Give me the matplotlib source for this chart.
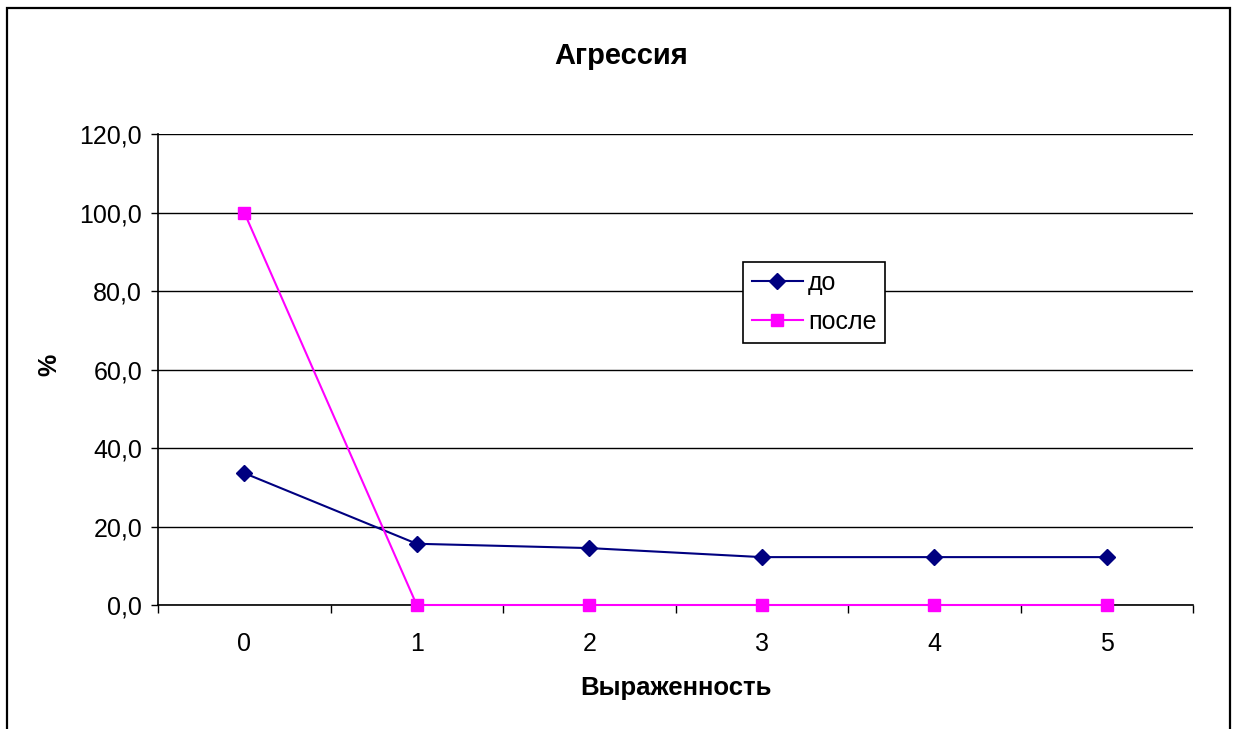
import matplotlib.pyplot as plt
from matplotlib.patches import Rectangle
from matplotlib.ticker import FixedLocator, FuncFormatter

plt.rcParams['font.family'] = ['Liberation Sans', 'DejaVu Sans']

categories = [0, 1, 2, 3, 4, 5]
do_values = [33.6, 15.6, 14.5, 12.2, 12.2, 12.2]
posle_values = [100.0, 0.0, 0.0, 0.0, 0.0, 0.0]
y_ticks = [0, 20, 40, 60, 80, 100, 120]

W, H = 1233, 729
fig = plt.figure(figsize=(W / 100, H / 100), dpi=100)
ax = fig.add_axes([158 / W, 1 - 605 / H, (1193 - 158) / W, (605 - 134) / H])

# outer chart frame
fig.patches.append(Rectangle((7 / W, -0.02), (1230 - 7) / W, 1 - 8 / H + 0.02,
                             transform=fig.transFigure, fill=False,
                             edgecolor='black', linewidth=1.6, zorder=0))

x = list(range(len(categories)))
ax.plot(x, do_values, color='#000080', linewidth=1.5, marker='D',
        markersize=8, markeredgecolor='#000080', label='до', zorder=4)
ax.plot(x, posle_values, color='#FF00FF', linewidth=1.5, marker='s',
        markersize=8, markeredgecolor='#FF00FF', label='после', zorder=4,
        clip_on=False)

ax.set_xlim(-0.5, len(categories) - 0.5)
ax.set_ylim(0, 120)

ax.yaxis.set_major_locator(FixedLocator(y_ticks))
ax.yaxis.set_major_formatter(FuncFormatter(lambda v, p: f'{v:.1f}'.replace('.', ',')))
ax.grid(axis='y', color='black', linewidth=1.0, zorder=1)
ax.set_axisbelow(True)

ax.set_xticks(x)
ax.set_xticklabels([str(c) for c in categories])
ax.set_xticks([i - 0.5 for i in range(len(categories) + 1)], minor=True)
ax.tick_params(axis='x', which='major', length=0, pad=19.4, labelsize=18)
ax.tick_params(axis='x', which='minor', length=5.5, width=1, direction='out')
ax.tick_params(axis='y', length=5, width=1, direction='out', pad=6.5, labelsize=18)

for side in ('top', 'right'):
    ax.spines[side].set_visible(False)
for side in ('left', 'bottom'):
    ax.spines[side].set_linewidth(1.2)

# titles placed in figure pixels
fig.text(621 / W, 1 - 64 / H, 'Агрессия', fontsize=21, fontweight='bold',
         ha='center', va='baseline')
fig.text(676 / W, 1 - 695 / H, 'Выраженность', fontsize=18.5, fontweight='bold',
         ha='center', va='baseline')
fig.text(49 / W, 1 - 365 / H, '%', fontsize=18, fontweight='bold', rotation=90,
         ha='center', va='center')

leg = ax.legend(loc='upper left', bbox_to_anchor=((743 - 158) / (1193 - 158), (605 - 262) / (605 - 134)),
                fontsize=18, frameon=True, fancybox=False, edgecolor='black',
                framealpha=1, borderpad=0.35, handlelength=2.05, handletextpad=0.2,
                labelspacing=0.6, borderaxespad=0)
leg.get_frame().set_linewidth(1.2)

fig.savefig('out.png', dpi=100)
